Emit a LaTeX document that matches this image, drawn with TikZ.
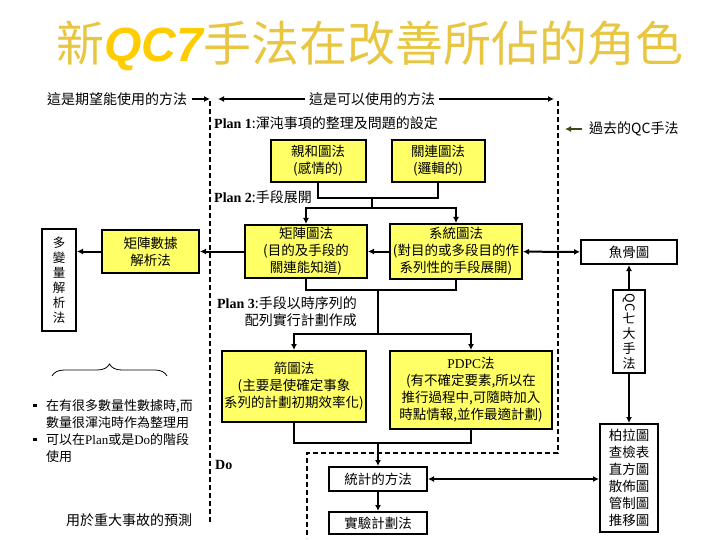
\documentclass[tikz,border=0pt]{standalone}
\usepackage{fontspec}
\setmainfont{Noto Sans CJK TC}
\newfontfamily\tms{Liberation Serif}
\newfontfamily\arl{Liberation Sans}
\usetikzlibrary{arrows.meta, positioning, calc, decorations.pathreplacing}
\definecolor{boxyellow}{RGB}{255,255,102}
\definecolor{titlegold}{RGB}{232,198,66}
\definecolor{qcgold}{RGB}{255,204,0}
\definecolor{pastolive}{RGB}{70,70,20}
\tikzset{
    qcbox/.style={draw, rectangle, line width=2pt, align=center, inner sep=1pt, font=\fontsize{13.5}{17}\selectfont},
    toolbox/.style={qcbox, fill=boxyellow},
    oldbox/.style={qcbox, fill=white},
    note/.style={font=\fontsize{14}{17}\selectfont, inner sep=0pt},
    planlabel/.style={note, anchor=west},
    link/.style={line width=2pt},
    linkarrow/.style={link, -{Latex[length=6pt,width=6pt]}},
    twoway/.style={link, {Latex[length=6pt,width=6pt]}-{Latex[length=6pt,width=6pt]}},
    border/.style={line width=2pt, dash pattern=on 5pt off 3pt},
}
\newcommand{\sqbullet}{\makebox[13pt][l]{\raisebox{3pt}{\rule{3.5pt}{3.5pt}}}}

\begin{document}
\begin{tikzpicture}[x=1pt, y=-1pt]
    \useasboundingbox (0,0) rectangle (720,540);
    % Title
    \node[inner sep=0pt, font=\fontsize{48}{52}\selectfont, text=titlegold] (title) at (370,46)
          {新{\arl\bfseries\itshape\color{qcgold}QC7}手法在改善所佔的角色};

    % Scope of the methods
    \node[note, anchor=west] (want) at (47,99) {這是期望能使用的方法};
    \node[note] (can) at (372,99) {這是可以使用的方法};
    \coordinate (wantend) at (210,99);
    \coordinate (canleft) at (218,99);
    \coordinate (canright) at (554,99);
    \draw[linkarrow, shorten <=5pt] (want) -- (wantend);
    \draw[linkarrow, shorten <=4pt] (can) -- (canleft);
    \draw[linkarrow, shorten <=4pt] (can) -- (canright);

    \draw[border] (210,101) -- (210,522);
    \draw[border] (558,101) -- (558,453) -- (307,453) -- (307,538);

    \node[note, anchor=west] (past) at (589,129) {過去的QC手法};
    \coordinate (pastend) at (565,129);
    \draw[linkarrow, draw=pastolive, shorten <=7pt] (past) -- (pastend);

    % Plan 1
    \node[planlabel] (plan1) at (214,123) {{\tms\bfseries Plan 1}:渾沌事項的整理及問題的設定};
    \node[toolbox, minimum width=95pt, minimum height=42pt] (affinity) at (318,161) {親和圖法\\(感情的)};
    \node[toolbox, minimum width=93pt, minimum height=42pt, right=24pt of affinity] (relation) {關連圖法\\(邏輯的)};

    % Plan 2
    \node[planlabel] (plan2) at (214,197) {{\tms\bfseries Plan 2}:手段展開};
    \node[toolbox, minimum width=122pt, minimum height=53pt] (matdiag) at (306,251.5)
          {矩陣圖法\\(目的及手段的\\關連能知道)};
    \node[toolbox, minimum width=132pt, minimum height=55pt] (sysdiag) at (456,251.5)
          {系統圖法\\(對目的或多段目的作\\系列性的手段展開)};
    \node[toolbox, minimum width=97pt, minimum height=43pt] (matdata) at (150.5,251.5) {矩陣數據\\解析法};
    \node[oldbox, minimum width=34pt, minimum height=101pt, font=\fontsize{12.5}{15}\selectfont] (multivar) at (59,280)
          {多\\變\\量\\解\\析\\法};

    \coordinate (plan1join) at (372,198);
    \coordinate (plan2join) at (372,208);
    \draw[link] (affinity.south) |- (plan1join) -| (relation.south);
    \draw[link] (plan1join) -- (plan2join);
    \draw[linkarrow] (plan2join) -| (matdiag.north);
    \draw[linkarrow] (plan2join) -| (sysdiag.north);
    \draw[linkarrow] (sysdiag) -- (matdiag);
    \draw[linkarrow] (matdiag) -- (matdata);
    \draw[linkarrow] (matdata.west) -- (matdata.west -| multivar.east);

    % Old QC tools
    \node[oldbox, minimum width=96pt, minimum height=24pt] (fishbone) at (629,252) {魚骨圖};
    \node[oldbox, minimum width=32pt, minimum height=83pt, font=\fontsize{13}{15}\selectfont] (qcseven) at (629,331.5)
          {\rotatebox{-90}{QC}\\七\\大\\手\\法};
    \node[oldbox, minimum width=58pt, minimum height=108pt] (qctools) at (629,478)
          {柏拉圖\\查檢表\\直方圖\\散佈圖\\管制圖\\推移圖};
    \draw[twoway] (sysdiag) -- (fishbone);
    \draw[linkarrow] (qcseven) -- (fishbone);
    \draw[linkarrow] (qcseven) -- (qctools);

    % Plan 3
    \node[note, align=right, anchor=east] (plan3) at (357,312)
          {{\tms\bfseries Plan 3}:手段以時序列的\\配列實行計劃作成};
    \node[toolbox, minimum width=144pt, minimum height=71pt] (arrowdiag) at (294,386.5)
          {箭圖法\\(主要是使確定事象\\系列的計劃初期效率化)};
    \node[toolbox, minimum width=162pt, minimum height=78pt] (pdpc) at (471,390)
          {{\tms PDPC}法\\(有不確定要素,所以在\\推行過程中,可隨時加入\\時點情報,並作最適計劃)};

    \coordinate (plan2join2) at (378,290);
    \coordinate (plan3join) at (378,334);
    \draw[link] (matdiag.south) |- (plan2join2) -| (sysdiag.south);
    \draw[link] (plan2join2) -- (plan3join);
    \draw[linkarrow] (plan3join) -| (arrowdiag.north);
    \draw[linkarrow] (plan3join) -| (pdpc.north);

    % Do
    \node[planlabel, font=\tms\bfseries\fontsize{14}{17}\selectfont] (do) at (215,465) {Do};
    \node[oldbox, minimum width=98pt, minimum height=24pt] (stats) at (378,479) {統計的方法};
    \node[oldbox, minimum width=98pt, minimum height=22pt, below=19pt of stats] (doe) {實驗計劃法};

    \coordinate (plan3join2) at (378,443);
    \draw[link] (arrowdiag.south) |- (plan3join2) -| (pdpc.south);
    \draw[linkarrow] (plan3join2) -- (stats);
    \draw[linkarrow] (stats) -- (doe);
    \draw[twoway] (stats.east) -- (stats.east -| qctools.west);

    % Notes on the left
    \draw[line width=0.8pt, decorate, decoration={brace, amplitude=12pt}] (52,376) -- (167,376);
    \node[note, anchor=north west, align=left, font=\fontsize{13}{17}\selectfont] (usage) at (33,399)
          {\sqbullet 在有很多數量性數據時,而\\
           \hspace*{13pt}數量很渾沌時作為整理用\\
           \sqbullet 可以在{\tms Plan}或是{\tms Do}的階段\\
           \hspace*{13pt}使用};
    \node[note, anchor=west] (predict) at (66,520) {用於重大事故的預測};
\end{tikzpicture}
\end{document}
